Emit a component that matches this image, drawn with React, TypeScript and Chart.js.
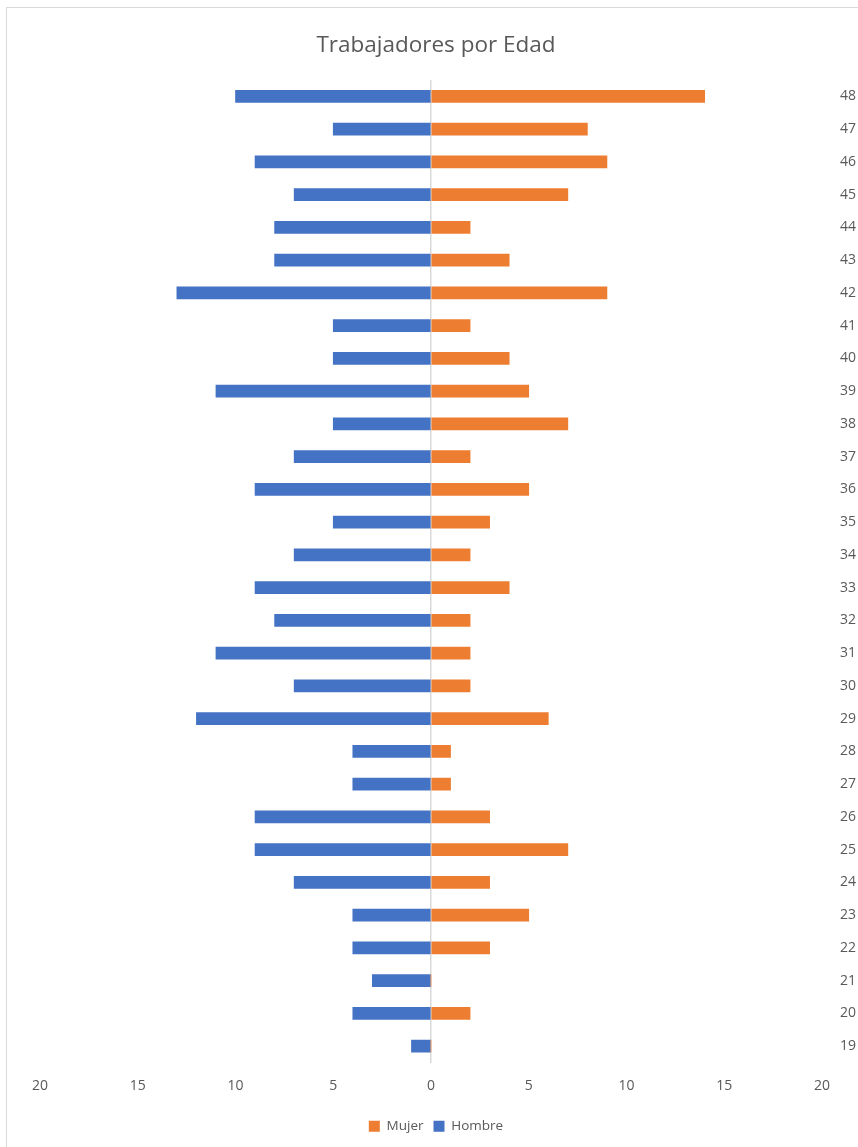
import React, { useEffect, useRef } from "react";
import { Chart, registerables } from "chart.js";

Chart.register(...registerables);

const ages: string[] = [
  "19", "20", "21", "22", "23", "24", "25", "26", "27", "28",
  "29", "30", "31", "32", "33", "34", "35", "36", "37", "38",
  "39", "40", "41", "42", "43", "44", "45", "46", "47", "48",
];
const mujer: number[] = [
  0, 2, 0, 3, 5, 3, 7, 3, 1, 1,
  6, 2, 2, 2, 4, 2, 3, 5, 2, 7,
  5, 4, 2, 9, 4, 2, 7, 9, 8, 14,
];
const hombre: number[] = [
  1, 4, 3, 4, 4, 7, 9, 9, 4, 4,
  12, 7, 11, 8, 9, 7, 5, 9, 7, 5,
  11, 5, 5, 13, 8, 8, 7, 9, 5, 10,
];
const xTicks: number[] = [-20, -15, -10, -5, 0, 5, 10, 15, 20];

const FONT = "'Open Sans', 'Liberation Sans', sans-serif";
const GRAY = "#595959";

export default function App() {
  const ref = useRef<HTMLCanvasElement | null>(null);
  useEffect(() => {
    if (!ref.current) return;
    const chart = new Chart(ref.current, {
      type: "bar",
      data: {
        labels: ages,
        datasets: [
          {
            label: "Mujer",
            data: mujer,
            backgroundColor: "#ED7D31",
            barThickness: 12,
          },
          {
            label: "Hombre",
            data: hombre.map((v) => -v),
            backgroundColor: "#4472C4",
            barThickness: 12,
          },
        ],
      },
      options: {
        indexAxis: "y",
        animation: false,
        responsive: false,
        maintainAspectRatio: false,
        layout: { padding: { left: 14, right: 0, top: 0, bottom: 4 } },
        plugins: {
          title: {
            display: true,
            text: "Trabajadores por Edad",
            color: GRAY,
            font: { family: FONT, size: 22.5, weight: "normal" },
            padding: { top: 32, bottom: 21 },
          },
          legend: {
            position: "bottom",
            labels: {
              color: GRAY,
              font: { family: FONT, size: 13.5 },
              boxWidth: 11,
              boxHeight: 11,
              padding: 10,
            },
          },
          tooltip: { enabled: false },
        },
        scales: {
          x: {
            stacked: true,
            min: -20,
            max: 20,
            afterBuildTicks: (scale: any) => {
              scale.ticks = xTicks.map((v) => ({ value: v }));
            },
            afterFit: (scale: any) => {
              scale.height = 47;
            },
            ticks: {
              color: GRAY,
              font: { family: FONT, size: 14 },
              padding: 15,
              callback: (v: any) => String(Math.abs(Number(v))),
            },
            grid: {
              drawTicks: false,
              color: (ctx: any) =>
                ctx.tick && ctx.tick.value === 0 ? "#d9d9d9" : "rgba(0,0,0,0)",
              lineWidth: 1.5,
            },
            border: { display: false },
          },
          y: {
            stacked: true,
            position: "right",
            reverse: true,
            afterFit: (scale: any) => {
              scale.width = 36;
            },
            ticks: {
              color: GRAY,
              font: { family: FONT, size: 14 },
              padding: 18,
            },
            grid: { display: false, drawTicks: false },
            border: { display: false },
          },
          yLeft: {
            type: "category",
            position: "left",
            labels: ages,
            afterFit: (scale: any) => {
              scale.width = 26;
            },
            ticks: { display: false },
            grid: { display: false, drawTicks: false },
            border: { display: false },
          },
        },
      },
    });
    return () => chart.destroy();
  }, []);

  return (
    <div
      style={{
        position: "fixed",
        left: 0,
        top: 0,
        width: 858,
        height: 1147,
        background: "#fff",
        overflow: "hidden",
      }}
    >
      <div
        style={{
          position: "absolute",
          left: 6,
          top: 7,
          width: 900,
          height: 1200,
          border: "1px solid #d9d9d9",
        }}
      />
      <canvas
        ref={ref}
        width={858}
        height={1147}
        style={{ position: "absolute", left: 0, top: 0, width: 858, height: 1147 }}
      />
    </div>
  );
}
